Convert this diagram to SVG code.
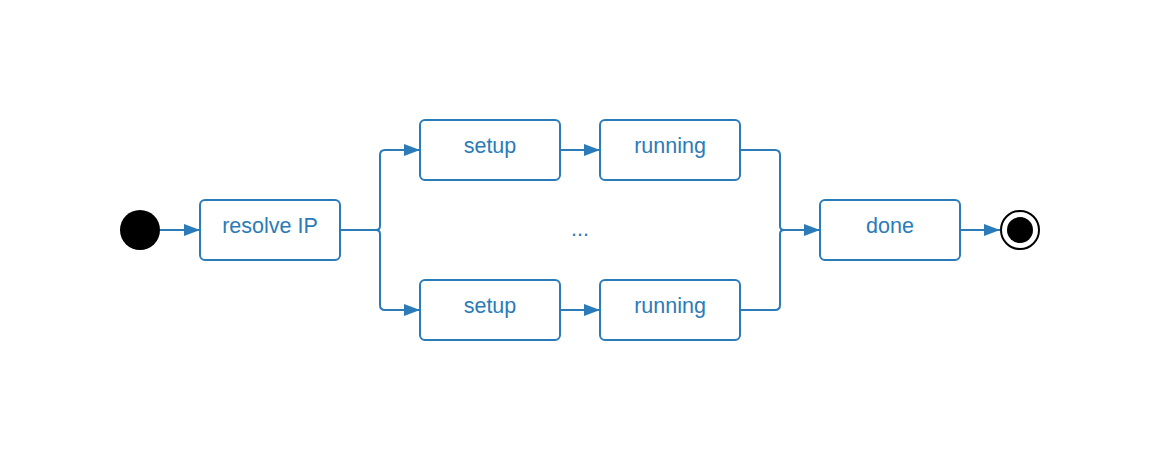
<svg xmlns="http://www.w3.org/2000/svg" width="1160" height="460" viewBox="0 0 1160 460">
<defs>
<marker id="arr" viewBox="0 0 16 12" refX="16" refY="6" markerWidth="16" markerHeight="12" markerUnits="userSpaceOnUse" orient="auto">
<path d="M0,0 L16,6 L0,12 Z" fill="#2b7bb9"/>
</marker>
<style>
.box{fill:#fff;stroke:#2b7bb9;stroke-width:2}
.lbl{font-family:"Liberation Sans",Arial,sans-serif;font-size:21.5px;fill:#2b7bb9;text-anchor:middle}
.edge{fill:none;stroke:#2b7bb9;stroke-width:2}
</style>
</defs>
<rect width="1160" height="460" fill="#fff"/>
<g id="connectors">
<path class="edge" d="M160,230 H200" marker-end="url(#arr)"/>
<path class="edge" d="M340,230 H376 Q380,230 380,226 V155 Q380,150 385,150 H420" marker-end="url(#arr)"/>
<path class="edge" d="M376,230 Q380,230 380,234 V305 Q380,310 385,310 H420" marker-end="url(#arr)"/>
<path class="edge" d="M560,150 H600" marker-end="url(#arr)"/>
<path class="edge" d="M560,310 H600" marker-end="url(#arr)"/>
<path class="edge" d="M740,150 H775 Q780,150 780,155 V226 Q780,230 784,230 H820" marker-end="url(#arr)"/>
<path class="edge" d="M740,310 H775 Q780,310 780,305 V234 Q780,230 784,230"/>
<path class="edge" d="M960,230 H1000" marker-end="url(#arr)"/>
</g>
<g id="start"><circle cx="140" cy="230" r="20" fill="#000"/></g>
<g id="resolve"><rect class="box" x="200" y="200" width="140" height="60" rx="5"/><text class="lbl" x="270" y="233">resolve IP</text></g>
<g id="setup1"><rect class="box" x="420" y="120" width="140" height="60" rx="5"/><text class="lbl" x="490" y="153">setup</text></g>
<g id="running1"><rect class="box" x="600" y="120" width="140" height="60" rx="5"/><text class="lbl" x="670" y="153">running</text></g>
<g id="setup2"><rect class="box" x="420" y="280" width="140" height="60" rx="5"/><text class="lbl" x="490" y="313">setup</text></g>
<g id="running2"><rect class="box" x="600" y="280" width="140" height="60" rx="5"/><text class="lbl" x="670" y="313">running</text></g>
<g id="ellipsis"><text class="lbl" x="580" y="236">...</text></g>
<g id="done"><rect class="box" x="820" y="200" width="140" height="60" rx="5"/><text class="lbl" x="890" y="233">done</text></g>
<g id="end"><circle cx="1020" cy="230" r="19" fill="#fff" stroke="#000" stroke-width="2"/><circle cx="1020" cy="230" r="13" fill="#000"/></g>
</svg>
